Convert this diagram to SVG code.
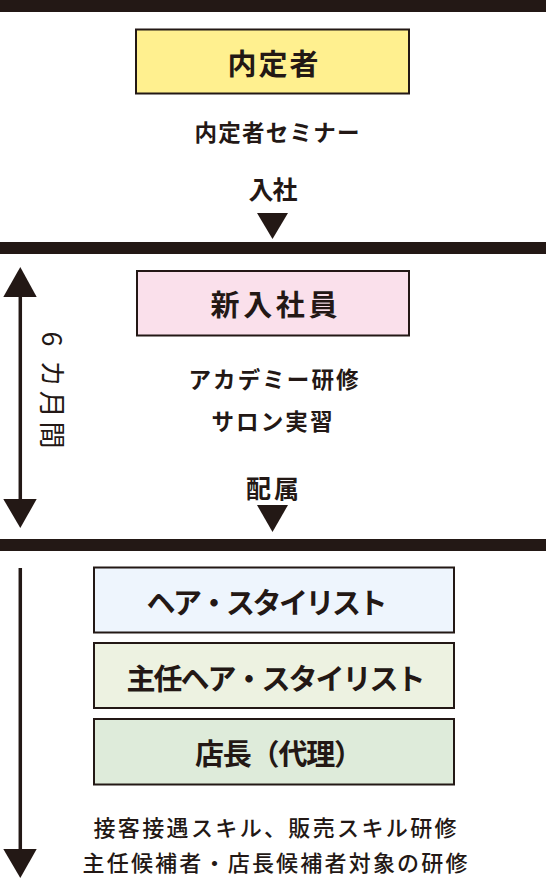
<svg xmlns="http://www.w3.org/2000/svg" width="546" height="879" viewBox="0 0 546 879">
<style>
.bar{fill:#231815}
.box{stroke:#231815;stroke-width:2}
.t{font-family:"Noto Sans CJK JP","Noto Sans",sans-serif;fill:#231815;text-anchor:middle;dominant-baseline:central}
.title{font-size:29px;font-weight:bold}
.sub{font-size:22.5px;font-weight:bold}
.act{font-size:25px;font-weight:bold}
.desc{font-size:22px;font-weight:500}
.tri{fill:#231815}
.shaft{stroke:#231815;stroke-width:3.5}
</style>
<rect width="546" height="879" fill="#ffffff"/>
<g id="bars">
<rect class="bar" x="0" y="0" width="546" height="12"/>
<rect class="bar" x="0" y="242" width="546" height="12"/>
<rect class="bar" x="0" y="539" width="546" height="12"/>
</g>
<g id="node-naiteisha">
<rect class="box" x="136" y="29.5" width="273" height="64" fill="#FFF08F"/>
<text class="t title" x="273" y="62" textLength="91" lengthAdjust="spacing">内定者</text>
</g>
<g id="label-seminar">
<text class="t sub" x="277" y="131" textLength="165" lengthAdjust="spacing">内定者セミナー</text>
</g>
<g id="label-nyusha">
<text class="t act" x="273" y="188" textLength="49" lengthAdjust="spacing">入社</text>
</g>
<g id="node-shinnyu">
<rect class="box" x="137" y="271" width="272" height="64.5" fill="#FAE0EB"/>
<text class="t title" x="274" y="303" font-size="30" textLength="127" lengthAdjust="spacing">新入社員</text>
</g>
<g id="label-academy">
<text class="t sub" x="273.5" y="378" textLength="170" lengthAdjust="spacing">アカデミー研修</text>
<text class="t sub" x="272" y="420" textLength="121" lengthAdjust="spacing">サロン実習</text>
</g>
<g id="label-haizoku">
<text class="t act" x="272.5" y="487" textLength="53" lengthAdjust="spacing">配属</text>
</g>
<g id="label-period">
<text class="t" transform="translate(53,390) rotate(90)" font-size="27" font-weight="400" textLength="117" lengthAdjust="spacing">6 カ月間</text>
</g>
<g id="node-stylist">
<rect class="box" x="94" y="567.5" width="360" height="65" fill="#EEF5FD"/>
<text class="t title" x="267" y="601" textLength="241" lengthAdjust="spacing">ヘア・スタイリスト</text>
</g>
<g id="node-shunin">
<rect class="box" x="94" y="643" width="360" height="65" fill="#EDF2E1"/>
<text class="t title" x="276" y="677" textLength="299" lengthAdjust="spacing">主任ヘア・スタイリスト</text>
</g>
<g id="node-tencho">
<rect class="box" x="94" y="719" width="360" height="65.5" fill="#DEEBDA"/>
<text class="t title" x="279" y="752" textLength="168" lengthAdjust="spacing">店長（代理）</text>
</g>
<g id="label-training">
<text class="t desc" x="275" y="826" textLength="363" lengthAdjust="spacing">接客接遇スキル、販売スキル研修</text>
<text class="t desc" x="275" y="861" textLength="385" lengthAdjust="spacing">主任候補者・店長候補者対象の研修</text>
</g>
<g id="connectors">
<polygon class="tri" points="257,213 288,213 272.5,239"/>
<polygon class="tri" points="257,505 288,505 272.5,532"/>
<line class="shaft" x1="20.3" y1="295" x2="20.3" y2="500"/>
<polygon class="tri" points="3.3,297 36.7,297 20.3,267"/>
<polygon class="tri" points="3.3,499 36.7,499 20.3,528"/>
<line class="shaft" x1="20.3" y1="568" x2="20.3" y2="851"/>
<polygon class="tri" points="3.3,849 36.7,849 20.3,878"/>
</g>
</svg>
